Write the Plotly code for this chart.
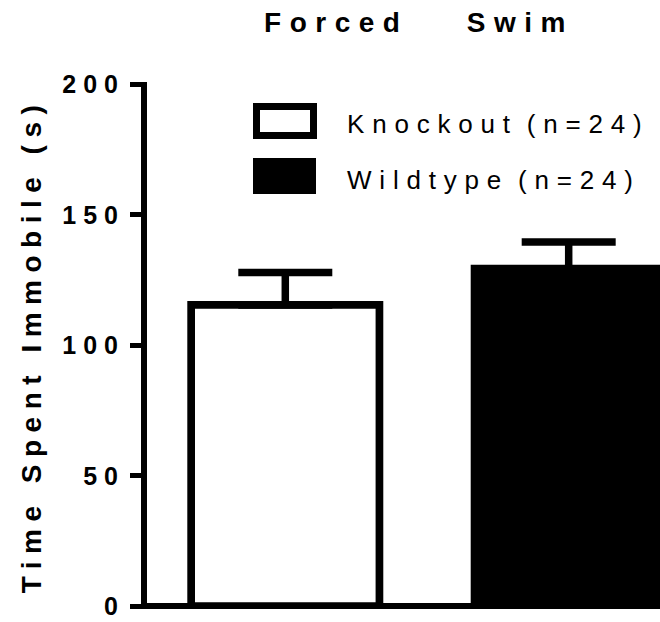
import plotly.graph_objects as go

# Forced swim test: time spent immobile per genotype (mean + SEM)
groups = ["Knockout (n=24)", "Wildtype (n=24)"]
means = [115.5, 129.4]
sems = [12.4, 10.2]
fills = ["white", "black"]
y_tick_vals = [0, 50, 100, 150, 200]
y_tick_text = ["0", "50", "100", "150", "200"]

W, H = 660, 622
M_L, M_R, M_T, M_B = 147, 0, 82, 13
FONT = "Liberation Sans, Arial, Helvetica, sans-serif"


def spaced(text, ls, ws=None):
    style = f"letter-spacing:{ls}px"
    if ws is not None:
        style += f";word-spacing:{ws}px"
    return f'<span style="{style}">{text}</span>'


fig = go.Figure()
fig.add_trace(go.Bar(
    x=list(range(len(groups))),
    y=means,
    width=0.6644,
    marker=dict(color=fills, line=dict(color="black", width=7.7)),
    error_y=dict(type="data", array=sems, arrayminus=[0] * len(sems),
                 symmetric=False, thickness=7.5, width=47, color="black"),
    showlegend=False,
    hoverinfo="skip",
))

# legend drawn as swatches + labels (pixel positions converted to paper)
pw, ph = W - M_L - M_R, H - M_T - M_B


def px_x(px):
    return (px - M_L) / pw


def px_y(py):
    return (H - M_B - py) / ph


swatches = [
    dict(x0=256.5, x1=313.5, y0=106.5, y1=135.5, lw=7),
    dict(x0=253, x1=316, y0=158, y1=194, lw=0),
]
label_y = [124, 180]
for grp, fill, sw, ly in zip(groups, fills, swatches, label_y):
    fig.add_shape(type="rect", xref="paper", yref="paper",
                  x0=px_x(sw["x0"]), x1=px_x(sw["x1"]),
                  y0=px_y(sw["y1"]), y1=px_y(sw["y0"]),
                  fillcolor=fill,
                  line=dict(color="black", width=sw["lw"]))
    fig.add_annotation(xref="paper", yref="paper", x=px_x(345), y=px_y(ly),
                       xanchor="left", yanchor="middle", showarrow=False,
                       text=spaced(grp, 7.8, -6),
                       font=dict(family=FONT, size=26, color="black"))

fig.update_layout(
    width=W, height=H,
    margin=dict(l=M_L, r=M_R, t=M_T, b=M_B, pad=0),
    paper_bgcolor="white", plot_bgcolor="white",
    title=dict(text=spaced("Forced Swim", 8.5, 42), x=419 / W, xref="container",
               xanchor="center", y=1 - 22 / H, yref="container", yanchor="middle",
               font=dict(family=FONT, size=28, color="black", weight="bold")),
    xaxis=dict(range=[-0.488, 1.3222], showgrid=False, zeroline=False,
               showline=False, showticklabels=False, ticks=""),
    yaxis=dict(range=[-1.1, 201], showgrid=False,
               zeroline=True, zerolinecolor="black", zerolinewidth=5.7,
               showline=True, linecolor="black", linewidth=6,
               ticks="outside", ticklen=11, tickwidth=5, tickcolor="black",
               tickvals=y_tick_vals,
               ticktext=[spaced(t, 7) for t in y_tick_text],
               tickfont=dict(family=FONT, size=25, color="black", weight="bold"),
               title=dict(text=spaced("Time Spent Immobile (s)", 7.5),
                          font=dict(family=FONT, size=28, color="black", weight="bold"),
                          standoff=14)),
)

fig.write_html("out.html", config={"displayModeBar": False})
